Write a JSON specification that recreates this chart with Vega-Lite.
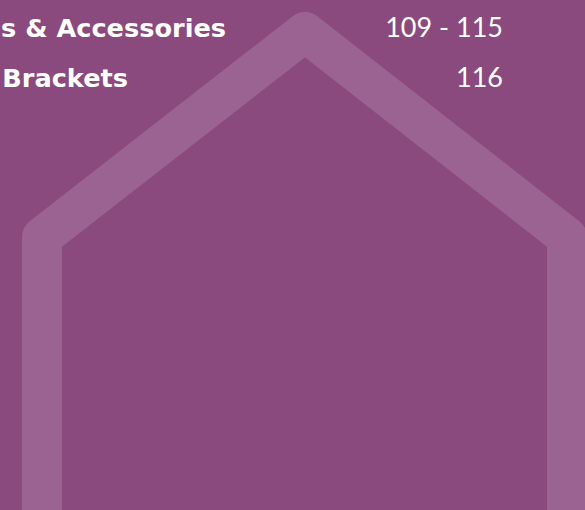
{
  "$schema": "https://vega.github.io/schema/vega-lite/v6.json",
  "autosize": {"type": "fit", "contains": "padding"},
  "width": 585,
  "height": 510,
  "padding": 0,
  "background": "#8B4A7E",
  "config": {"view": {"stroke": null}},
  "datasets": {
    "house": [
      {"i": 0, "x": 42, "y": 540},
      {"i": 1, "x": 42, "y": 237},
      {"i": 2, "x": 305, "y": 32},
      {"i": 3, "x": 567, "y": 237},
      {"i": 4, "x": 567, "y": 540}
    ],
    "sections": [
      {"label": "s & Accessories", "x": 226, "y": 37},
      {"label": "Brackets", "x": 128, "y": 87}
    ],
    "pages": [
      {"label": "109 - 115", "x": 503, "y": 37},
      {"label": "116", "x": 503, "y": 87}
    ]
  },
  "layer": [
    {
      "data": {"name": "house"},
      "mark": {"type": "line", "stroke": "#9B6391", "strokeWidth": 40, "strokeJoin": "round", "strokeCap": "butt", "clip": true},
      "encoding": {
        "x": {"field": "x", "type": "quantitative", "scale": {"domain": [0, 585], "nice": false, "zero": false}, "axis": null},
        "y": {"field": "y", "type": "quantitative", "scale": {"domain": [0, 510], "nice": false, "zero": false, "reverse": true}, "axis": null},
        "order": {"field": "i", "type": "quantitative"}
      }
    },
    {
      "data": {"name": "sections"},
      "mark": {"type": "text", "align": "right", "baseline": "alphabetic", "font": "DejaVu Sans", "fontWeight": "bold", "fontSize": 25.6, "color": "#FFFFFF"},
      "encoding": {
        "x": {"field": "x", "type": "quantitative", "scale": {"domain": [0, 585], "nice": false, "zero": false}, "axis": null},
        "y": {"field": "y", "type": "quantitative", "scale": {"domain": [0, 510], "nice": false, "zero": false, "reverse": true}, "axis": null},
        "text": {"field": "label"}
      }
    },
    {
      "data": {"name": "pages"},
      "mark": {"type": "text", "align": "right", "baseline": "alphabetic", "font": "Lato", "fontWeight": "normal", "fontSize": 27, "color": "#FFFFFF"},
      "encoding": {
        "x": {"field": "x", "type": "quantitative", "scale": {"domain": [0, 585], "nice": false, "zero": false}, "axis": null},
        "y": {"field": "y", "type": "quantitative", "scale": {"domain": [0, 510], "nice": false, "zero": false, "reverse": true}, "axis": null},
        "text": {"field": "label"}
      }
    }
  ]
}
